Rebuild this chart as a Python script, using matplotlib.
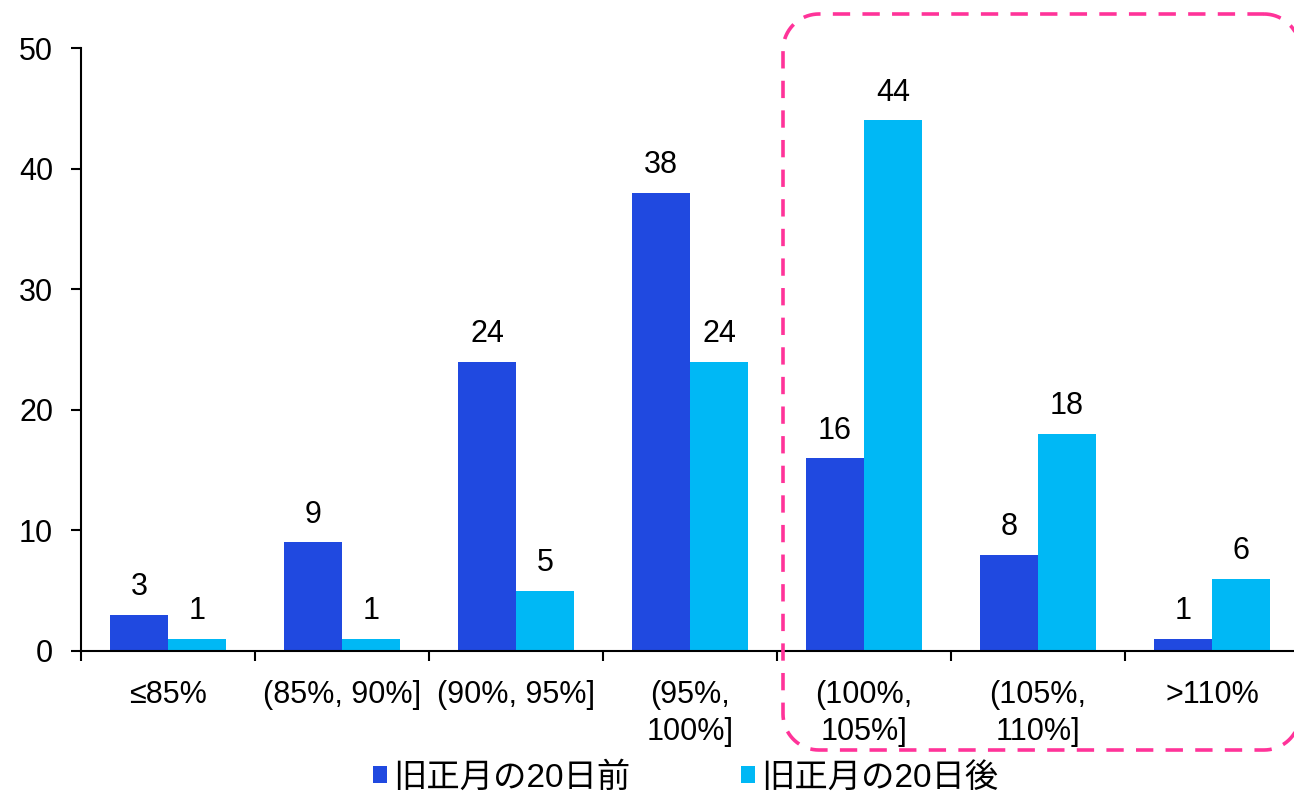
import numpy as np
import matplotlib
matplotlib.use("Agg")
import matplotlib.pyplot as plt

plt.rcParams['font.family'] = ['Liberation Sans', 'Noto Sans CJK JP', 'DejaVu Sans']

categories = ['≤85%', '(85%, 90%]', '(90%, 95%]', '(95%,\n100%]',
              '(100%,\n105%]', '(105%,\n110%]', '>110%']
before = [3, 9, 24, 38, 16, 8, 1]
after = [1, 1, 5, 24, 44, 18, 6]
series_names = ['旧正月の20日前', '旧正月の20日後']

dark = '#2049E0'
light = '#00B8F5'
pink = '#FF3399'


def rounded_rect(x0, y0, x1, y1, r, n=20):
    # corner arcs as plain line segments (y grows downward)
    pts = []
    corners = [(x1 - r, y0 + r, -90, 0), (x1 - r, y1 - r, 0, 90),
               (x0 + r, y1 - r, 90, 180), (x0 + r, y0 + r, 180, 270)]
    for cx, cy, a0, a1 in corners:
        t = np.radians(np.linspace(a0, a1, n))
        pts += list(zip(cx + r * np.cos(t), cy + r * np.sin(t)))
    pts.append(pts[0])
    return np.array(pts)


fig = plt.figure(figsize=(12.94, 7.91), dpi=100)
ax = fig.add_axes([81 / 1294, 140 / 791, 7 * 174 / 1294, 603 / 791])

x = np.arange(len(categories))
w = 1 / 3
b1 = ax.bar(x - w / 2, before, width=w, color=dark, label=series_names[0])
b2 = ax.bar(x + w / 2, after, width=w, color=light, label=series_names[1])
ax.bar_label(b1, padding=9, fontsize=22)
ax.bar_label(b2, padding=9, fontsize=22)

ax.set_xlim(-0.5, 6.5)
ax.set_ylim(0, 50)
ax.set_yticks([0, 10, 20, 30, 40, 50])

# group boundary ticks, labels centred on the groups
ax.set_xticks(np.arange(-0.5, 6, 1.0))
ax.set_xticklabels([])
ax.set_xticks(x, minor=True)
ax.set_xticklabels(categories, minor=True, linespacing=1.3)
ax.tick_params(axis='x', which='major', length=7, width=1.5, direction='out')
ax.tick_params(axis='x', which='minor', length=0, pad=21, labelsize=22)
ax.tick_params(axis='y', length=7, width=1.5, direction='out', pad=13, labelsize=22)

for s in ['top', 'right']:
    ax.spines[s].set_visible(False)
ax.spines['left'].set_linewidth(1.5)
ax.spines['bottom'].set_linewidth(1.5)

ax.legend(loc='center', bbox_to_anchor=(0.530, 0.017), bbox_transform=fig.transFigure,
          ncol=2, frameon=False, fontsize=24, handlelength=0.42, handleheight=0.42,
          handletextpad=0.2, columnspacing=3.3)

# overlay in pixel units for the dashed highlight box
ov = fig.add_axes([0, 0, 1, 1], zorder=5)
ov.set_xlim(0, 1294)
ov.set_ylim(791, 0)
ov.axis('off')
ov.patch.set_visible(False)
rr = rounded_rect(783, 14, 1300, 750, 36)
ov.plot(rr[:, 0], rr[:, 1], color=pink, lw=2.6, ls=(0, (4.8, 3.4)),
        solid_capstyle='butt', dash_capstyle='butt')

fig.savefig('out.png', dpi=100)
